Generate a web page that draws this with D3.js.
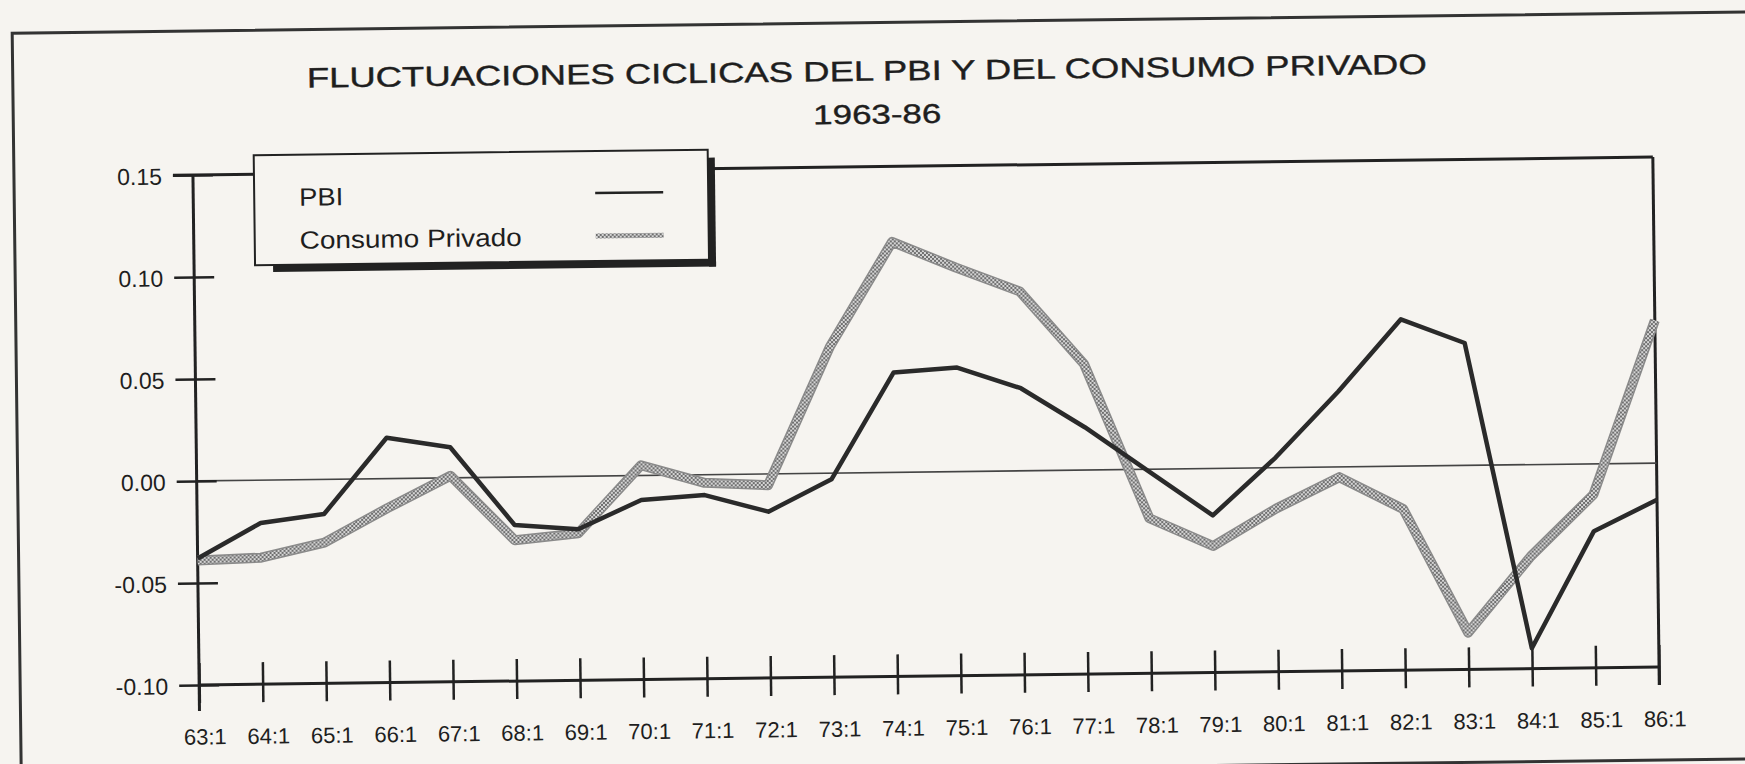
<!DOCTYPE html>
<html>
<head>
<meta charset="utf-8">
<script src="https://cdn.jsdelivr.net/npm/d3@7"></script>
<style>
  html, body { margin: 0; padding: 0; background: #f6f4f0; }
  svg { display: block; }
  text { font-family: "Liberation Sans", Arial, Helvetica, sans-serif; fill: #1e1e1e; }
</style>
</head>
<body>
<svg id="chart" width="1745" height="764"></svg>
<script>
const categories = ["63:1","64:1","65:1","66:1","67:1","68:1","69:1","70:1","71:1","72:1","73:1","74:1",
                    "75:1","76:1","77:1","78:1","79:1","80:1","81:1","82:1","83:1","84:1","85:1","86:1"];
const pbi      = [-0.038,-0.021,-0.017,0.020,0.015,-0.0235,-0.026,-0.012,-0.010,-0.0185,-0.003,0.049,
                  0.051,0.0405,0.021,-0.001,-0.023,0.005,0.037,0.072,0.060,-0.090,-0.033,-0.018];
const consumo  = [-0.039,-0.038,-0.031,-0.0145,0.001,-0.031,-0.028,0.005,-0.004,-0.0055,0.062,0.113,
                  0.100,0.088,0.052,-0.024,-0.038,-0.020,-0.005,-0.021,-0.082,-0.045,-0.015,0.070];
const yTicks   = [-0.10,-0.05,0.00,0.05,0.10,0.15];
const seriesNames = ["PBI","Consumo Privado"];
const titleText = "FLUCTUACIONES CICLICAS DEL PBI Y DEL CONSUMO PRIVADO";
const subtitleText = "1963-86";

const svg = d3.select("#chart");
svg.append("rect").attr("width",1745).attr("height",764).attr("fill","#f6f4f0");

const defs = svg.append("defs");
const pat = defs.append("pattern").attr("id","hatch").attr("width",4).attr("height",4)
  .attr("patternUnits","userSpaceOnUse");
pat.append("rect").attr("width",4).attr("height",4).attr("fill","#d6d6d6");
pat.append("rect").attr("width",2).attr("height",2).attr("fill","#6e6e6e");
pat.append("rect").attr("x",2).attr("y",2).attr("width",2).attr("height",2).attr("fill","#6e6e6e");

// whole scanned page is slightly tilted
const g = svg.append("g").attr("transform","rotate(-0.7,926,421)");

// outer frame
g.append("path").attr("d","M17,800 L17,22 L1800,22").attr("fill","none").attr("stroke","#333").attr("stroke-width",3);
g.append("line").attr("x1",17).attr("x2",1800).attr("y1",769).attr("y2",769).attr("stroke","#333").attr("stroke-width",3);

// title
g.append("text").attr("x",871).attr("y",80).attr("text-anchor","middle")
  .attr("font-size",28).attr("stroke","#1e1e1e").attr("stroke-width",0.4)
  .attr("textLength",1120).attr("lengthAdjust","spacingAndGlyphs").text(titleText);
g.append("text").attr("x",881).attr("y",123).attr("text-anchor","middle")
  .attr("font-size",27).attr("stroke","#1e1e1e").attr("stroke-width",0.4)
  .attr("textLength",128).attr("lengthAdjust","spacingAndGlyphs").text(subtitleText);

const pLeft = 196, pRight = 1656, pTop = 166, pBottom = 676;
const x = d3.scalePoint().domain(categories).range([pLeft,pRight]);
const y = d3.scaleLinear().domain([-0.10,0.15]).range([pBottom,pTop]);

// plot frame (top and right), zero line
g.append("line").attr("x1",pLeft-20).attr("x2",pRight).attr("y1",y(0.15)).attr("y2",y(0.15))
  .attr("stroke","#222").attr("stroke-width",3);
g.append("line").attr("x1",pRight).attr("x2",pRight).attr("y1",y(0.15)).attr("y2",pBottom+18)
  .attr("stroke","#222").attr("stroke-width",3);
g.append("line").attr("x1",pLeft).attr("x2",pRight).attr("y1",y(0)).attr("y2",y(0))
  .attr("stroke","#444").attr("stroke-width",1.6);

// y axis
const fmt = d3.format(".2f");
const yAxis = g.append("g").attr("transform",`translate(${pLeft},0)`)
  .call(d3.axisLeft(y).tickValues(yTicks).tickFormat(d => fmt(d).replace("\u2212","-")).tickSize(20).tickPadding(14));
yAxis.select(".domain").attr("stroke","#222").attr("stroke-width",3).attr("d",`M0,${pTop}V${pBottom+26}`);
yAxis.selectAll(".tick line").attr("x1",-20).attr("x2",20).attr("stroke","#222").attr("stroke-width",2.5);
yAxis.selectAll(".tick text").attr("font-size",23).attr("x",-31).attr("dy","0.38em")
  .attr("font-family","'Liberation Sans', Arial, sans-serif").attr("fill","#1e1e1e");

// x axis
const xAxis = g.append("g").attr("transform",`translate(0,${pBottom})`)
  .call(d3.axisBottom(x).tickSize(18).tickPadding(22));
xAxis.select(".domain").attr("stroke","#222").attr("stroke-width",3).attr("d",`M${pLeft},0H${pRight}`);
xAxis.selectAll(".tick line").attr("y1",-22).attr("y2",18).attr("stroke","#222").attr("stroke-width",2.5);
xAxis.selectAll(".tick text").attr("font-size",22).attr("dx",5).attr("y",44)
  .attr("font-family","'Liberation Sans', Arial, sans-serif").attr("fill","#1e1e1e");

// series lines
const line = d3.line().x((d,i)=>x(categories[i])).y(d=>y(d));
g.append("path").datum(consumo).attr("d",line).attr("fill","none")
  .attr("stroke","#8a8a8a").attr("stroke-width",10).attr("stroke-linejoin","round");
g.append("path").datum(consumo).attr("d",line).attr("fill","none")
  .attr("stroke","url(#hatch)").attr("stroke-width",7).attr("stroke-linejoin","round");
g.append("path").datum(pbi).attr("d",line).attr("fill","none")
  .attr("stroke","#2a2a2a").attr("stroke-width",4.5).attr("stroke-linejoin","round");

// legend
const lg = g.append("g");
const lx = 257, ly = 147, lw = 454, lh = 110;
lg.append("rect").attr("x",lx+18).attr("y",ly+lh).attr("width",lw-11).attr("height",7).attr("fill","#222");
lg.append("rect").attr("x",lx+lw).attr("y",ly+8).attr("width",7).attr("height",lh-1).attr("fill","#222");
lg.append("rect").attr("x",lx).attr("y",ly).attr("width",lw).attr("height",lh)
  .attr("fill","#f6f4f0").attr("stroke","#222").attr("stroke-width",2);
lg.append("text").attr("x",302).attr("y",198).attr("font-size",25)
  .attr("textLength",44).attr("lengthAdjust","spacingAndGlyphs").text(seriesNames[0]);
lg.append("text").attr("x",302).attr("y",241).attr("font-size",25)
  .attr("textLength",222).attr("lengthAdjust","spacingAndGlyphs").text(seriesNames[1]);
lg.append("line").attr("x1",598).attr("x2",666).attr("y1",189).attr("y2",189)
  .attr("stroke","#222").attr("stroke-width",2.5);
lg.append("line").attr("x1",598).attr("x2",666).attr("y1",232).attr("y2",232)
  .attr("stroke","url(#hatch)").attr("stroke-width",5);
</script>
</body>
</html>
